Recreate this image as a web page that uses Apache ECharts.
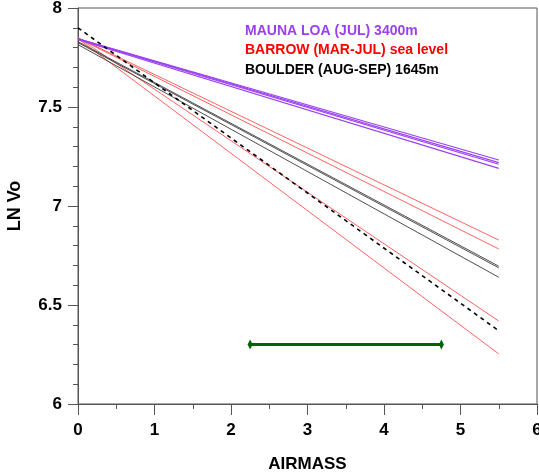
<!DOCTYPE html>
<html>
<head>
<meta charset="utf-8">
<script src="https://cdn.jsdelivr.net/npm/echarts@6/dist/echarts.min.js"></script>
<style>html,body{margin:0;padding:0;background:#fff}#c{width:539px;height:472px}</style>
</head>
<body>
<div id="c"></div>
<script>
// Airmass endpoints of every fitted line
var airmass = [0, 5.5];
// LN Vo at airmass 0 and 5.5
var maunaLoa1 = [7.845, 7.232];
var maunaLoa2 = [7.845, 7.219];
var maunaLoa3 = [7.842, 7.211];
var maunaLoa4 = [7.840, 7.190];
var barrow1 = [7.850, 6.828];
var barrow2 = [7.848, 6.783];
var barrow3 = [7.850, 6.419];
var barrow4 = [7.845, 6.253];
var boulder1 = [7.830, 6.696];
var boulder2 = [7.825, 6.688];
var boulder3 = [7.815, 6.640];
var dashedRef = [7.900, 6.370];
// Green range bar
var rangeX = [2.25, 4.75];
var rangeY = [6.3, 6.3];
// Text
var legendLines = ["MAUNA LOA (JUL) 3400m", "BARROW (MAR-JUL) sea level", "BOULDER (AUG-SEP) 1645m"];
var xTicks = [0, 1, 2, 3, 4, 5, 6];
var yTicks = [6, 6.5, 7, 7.5, 8];

function pts(xs, ys) { return xs.map(function (x, i) { return [x, ys[i]]; }); }

var FONT = '"Liberation Sans", Arial, Helvetica, sans-serif';
var PURPLE = '#9b3ff0', RED = '#ff3a3a', BLACK = '#3a3a3a';

function lineSeries(arr, color, width, type) {
  return {
    type: 'line', data: pts(airmass, arr), symbol: 'none', silent: true,
    lineStyle: { color: color, width: width, type: type || 'solid' }, z: 2
  };
}

var series = [];
[barrow1, barrow2, barrow3, barrow4].forEach(function (a) { series.push(lineSeries(a, RED, 0.8)); });
[boulder1, boulder2, boulder3].forEach(function (a) { series.push(lineSeries(a, BLACK, 0.9)); });
[maunaLoa1, maunaLoa2, maunaLoa3, maunaLoa4].forEach(function (a) { series.push(lineSeries(a, PURPLE, 1.1)); });
series.push(lineSeries(dashedRef, '#000', 1.6, [4, 4]));
series.push({
  type: 'line', data: pts(rangeX, rangeY), symbol: 'diamond', symbolSize: [5, 10],
  itemStyle: { color: '#006400' }, lineStyle: { color: '#006400', width: 3 }, silent: true, z: 3
});

var chart = echarts.init(document.getElementById('c'));
chart.setOption({
  animation: false,
  backgroundColor: '#fff',
  grid: { left: 78, right: 2, top: 8, bottom: 68, containLabel: false, outerBoundsMode: 'none',
          show: true, borderColor: '#555', borderWidth: 1, backgroundColor: 'transparent' },
  xAxis: {
    type: 'value', min: xTicks[0], max: xTicks[xTicks.length - 1], interval: 1,
    name: 'AIRMASS', nameLocation: 'middle', nameGap: 52,
    nameTextStyle: { fontFamily: FONT, fontWeight: 'bold', fontSize: 17, color: '#000' },
    axisLine: { lineStyle: { color: '#555', width: 1 } },
    axisTick: { show: true, length: 11, lineStyle: { color: '#555' } },
    minorTick: { show: true, splitNumber: 2, length: 5, lineStyle: { color: '#555' } },
    splitLine: { show: false },
    axisLabel: { fontFamily: FONT, fontWeight: 'bold', fontSize: 17, color: '#000', margin: 18 }
  },
  yAxis: {
    type: 'value', min: yTicks[0], max: yTicks[yTicks.length - 1], interval: 0.5,
    name: 'LN Vo', nameLocation: 'middle', nameGap: 54, nameRotate: 90,
    nameTextStyle: { fontFamily: FONT, fontWeight: 'bold', fontSize: 18, color: '#000' },
    axisLine: { show: true, lineStyle: { color: '#555', width: 1 } },
    axisTick: { show: true, length: 10, lineStyle: { color: '#555' } },
    minorTick: { show: true, splitNumber: 5, length: 5, lineStyle: { color: '#555' } },
    splitLine: { show: false },
    axisLabel: { fontFamily: FONT, fontWeight: 'bold', fontSize: 17, color: '#000', margin: 16 }
  },
  graphic: legendLines.map(function (t, i) {
    return {
      type: 'text', left: 245, top: 24 + i * 19.5,
      style: { text: t, fill: [PURPLE, '#ff0000', '#000'][i], font: 'bold 14px ' + FONT }
    };
  }),
  series: series
});
</script>
</body>
</html>
